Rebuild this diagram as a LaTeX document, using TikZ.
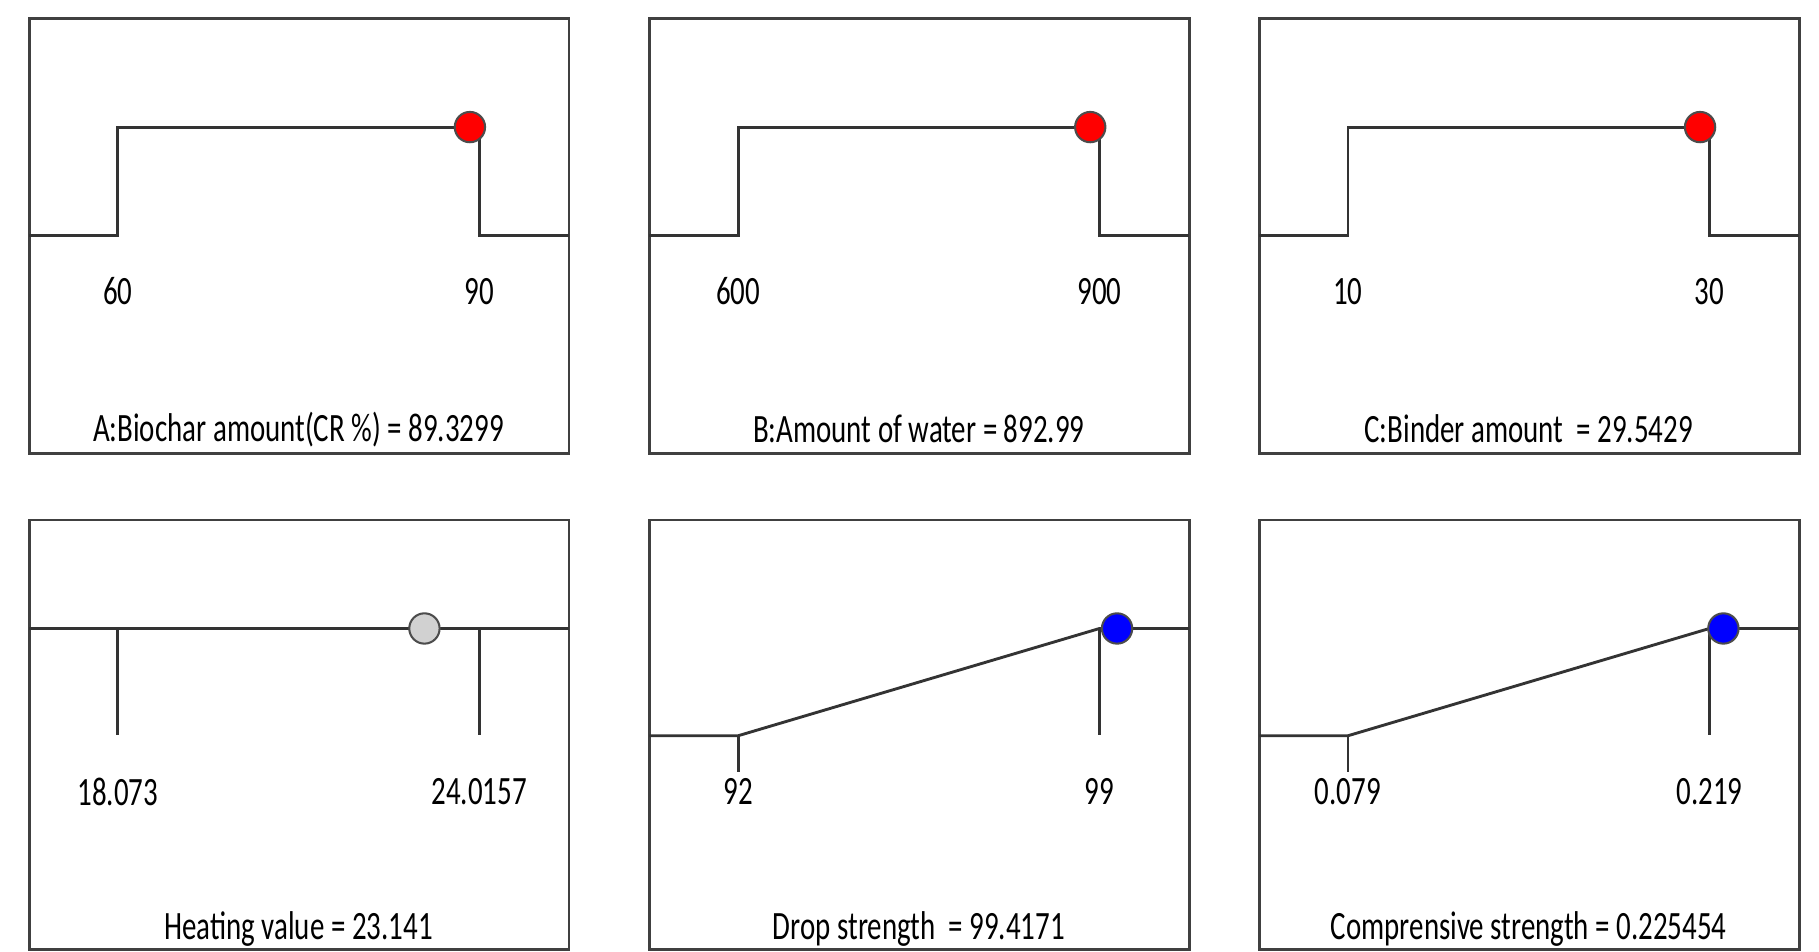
\documentclass[tikz,border=0pt]{standalone}
\usepackage{fontspec}
\setmainfont[FakeStretch=0.72]{Carlito}
\begin{document}
\begin{tikzpicture}[x=0.01cm,y=-0.01cm,
  frame/.style={draw=black!75,line width=0.7pt},
  curve/.style={draw=black!80,line width=0.7pt},
  lab/.style={font=\fontsize{9.8}{12}\selectfont,inner sep=0pt},
  dotr/.style={circle,draw=black!70,fill=red,inner sep=0pt,line width=0.5pt,minimum width=0.23cm,minimum height=0.26cm},
  dotb/.style={dotr,fill=blue},
  dotg/.style={dotr,fill=black!18}]
\useasboundingbox (0,0) rectangle (1560,816);
% top row
\foreach \xo/\a/\b/\t [count=\i] in {0/60/90/{A:Biochar amount(CR \%) = 89.3299},532/600/900/{B:Amount of water = 892.99},1055/10/30/{C:Binder amount\ \ = 29.5429}}{
  \draw[frame] (25+\xo,16) rectangle (488+\xo,389);
  \draw[curve] (25+\xo,202) -- (101+\xo,202) -- (101+\xo,109) -- (411+\xo,109) -- (411+\xo,202) -- (488+\xo,202);
  \node[dotr] (t\i) at (403+\xo,109) {};
  \node[lab] (ta\i) at (101+\xo,250) {\a};
  \node[lab] (tb\i) at (411+\xo,250) {\b};
  \node[lab] (tt\i) at (256+\xo,368) {\t};
}
% bottom row
\draw[frame] (25,446) rectangle (488,814);
\draw[curve] (25,539) -- (488,539);
\draw[curve] (101,539) -- (101,630);
\draw[curve] (411,539) -- (411,630);
\node[dotg] (b1) at (364,539) {};
\node[lab] (ba1) at (101,679) {18.073};
\node[lab] (bb1) at (411,679) {24.0157};
\node[lab] (bt1) at (256,797) {Heating value = 23.141};
\foreach \xo/\a/\b/\t/\d [count=\i from 2] in {532/92/99/{Drop strength\ \ = 99.4171}/958,1055/0.079/0.219/{Comprensive strength = 0.225454}/1478}{
  \draw[frame] (25+\xo,446) rectangle (488+\xo,814);
  \draw[curve] (25+\xo,631) -- (101+\xo,631) -- (411+\xo,539) -- (488+\xo,539);
  \draw[curve] (101+\xo,631) -- (101+\xo,662);
  \draw[curve] (411+\xo,539) -- (411+\xo,630);
  \node[dotb] (b\i) at (\d,539) {};
  \node[lab] (ba\i) at (101+\xo,679) {\a};
  \node[lab] (bb\i) at (411+\xo,679) {\b};
  \node[lab] (bt\i) at (256+\xo,797) {\t};
}
\end{tikzpicture}
\end{document}
